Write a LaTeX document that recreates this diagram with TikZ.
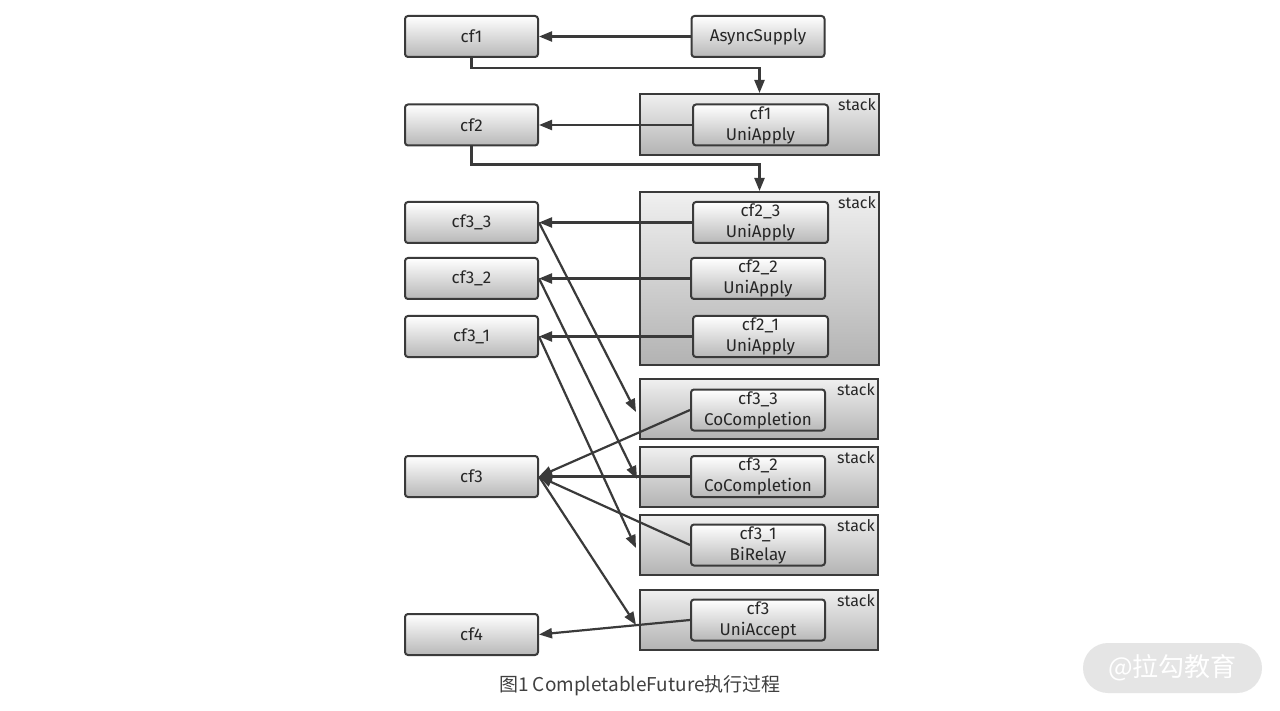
\documentclass[tikz,border=0pt]{standalone}
\usepackage{fontspec}
\setmainfont{Fira Sans}
\newfontfamily\cjkfont{Noto Sans CJK SC}
\usetikzlibrary{arrows.meta}
\definecolor{edge}{HTML}{3A3A3A}
\tikzset{
  box/.style={draw=edge, line width=2pt, rounded corners=3pt, top color=white, bottom color=black!28,
    minimum width=133pt, minimum height=41pt, align=center, font=\fontsize{17}{21}\selectfont, text=black!85, inner sep=0pt},
  stackbox/.style={draw=edge, line width=2pt, top color=black!6, bottom color=black!30, inner sep=0pt},
  stacklab/.style={anchor=north east, font=\fontsize{16}{16}\selectfont, text=black!85, inner sep=0pt},
  arr/.style={draw=edge, line width=2.2pt, -{Triangle[length=13pt,width=10pt]}},
}
\begin{document}
\begin{tikzpicture}[x=1pt,y=-1pt]
\useasboundingbox (0,0) rectangle (1280,711);
\fill[white] (0,0) rectangle (1280,711);
% stacks
\node[stackbox, minimum width=239pt, minimum height=61pt] (st1) at (759.5,124.5) {};
\node[stackbox, minimum width=239pt, minimum height=173pt] (st2) at (759.5,278.5) {};
\node[stackbox, minimum width=238pt, minimum height=60pt] (st3) at (759,409) {};
\node[stackbox, minimum width=238pt, minimum height=60pt] (st4) at (759,477) {};
\node[stackbox, minimum width=238pt, minimum height=60pt] (st5) at (759,545) {};
\node[stackbox, minimum width=238pt, minimum height=60pt] (st6) at (759,620) {};
\foreach \s in {st1,st2,st3,st4,st5,st6}{
  \node[stacklab] (\s lab) at ([xshift=-4pt,yshift=-5pt]\s.north east) {stack};
}
% left column
\node[box] (cf1) at (471.5,36.5) {cf1};
\node[box] (async) at (758,36.5) {AsyncSupply};
\node[box] (cf2) at (471.5,125) {cf2};
\node[box] (cf33) at (471.5,222.5) {cf3\_3};
\node[box] (cf32) at (471.5,278.5) {cf3\_2};
\node[box] (cf31) at (471.5,336.5) {cf3\_1};
\node[box] (cf3) at (471.5,476.5) {cf3};
\node[box] (cf4) at (471.5,634.5) {cf4};
% inner boxes
\node[box, minimum width=135pt] (ua1) at (760.5,125) {cf1\\UniApply};
\node[box, minimum width=135pt] (ua23) at (760.5,222.5) {cf2\_3\\UniApply};
\node[box, minimum width=134pt] (ua22) at (758,278.5) {cf2\_2\\UniApply};
\node[box, minimum width=135pt] (ua21) at (760.5,336.5) {cf2\_1\\UniApply};
\node[box, minimum width=134pt] (cc33) at (758,410) {cf3\_3\\CoCompletion};
\node[box, minimum width=134pt] (cc32) at (758,476.5) {cf3\_2\\CoCompletion};
\node[box, minimum width=134pt] (br31) at (758,545) {cf3\_1\\BiRelay};
\node[box, minimum width=134pt] (ua3) at (758,620) {cf3\\UniAccept};
% connectors
\draw[arr] (async) -- (cf1);
\draw[arr] (cf1.south) -- ++(0,10) -| (st1.north);
\draw[arr] (ua1) -- (cf2);
\draw[arr] (cf2.south) -- ++(0,18) -| (st2.north);
\draw[arr] (ua23) -- (cf33);
\draw[arr] (ua22) -- (cf32);
\draw[arr] (ua21) -- (cf31);
\draw[arr] (cf33.east) -- ([xshift=-3pt,yshift=-3pt]st3.west);
\draw[arr] (cf32.east) -- ([xshift=-2pt,yshift=-2pt]st4.west);
\draw[arr] (cf31.east) -- ([xshift=-3pt,yshift=-3pt]st5.west);
\draw[arr] (cf3.east) -- ([xshift=-3pt,yshift=-5pt]st6.west);
\draw[arr] (cc33.west) -- (cf3.east);
\draw[arr] (cc32.west) -- (cf3.east);
\draw[arr] (br31.west) -- (cf3.east);
\draw[arr] (ua3.west) -- (cf4.east);
% caption and watermark
\node[font=\cjkfont\fontsize{19}{19}\selectfont, text=black!75] (cap) at (640,686) {图1 CompletableFuture执行过程};
\node[fill=black!10, rounded corners=25pt, minimum width=179pt, minimum height=50pt, text=white,
  font=\cjkfont\fontsize{26}{26}\selectfont] (wm) at (1172.5,668) {@拉勾教育};
\end{tikzpicture}
\end{document}
